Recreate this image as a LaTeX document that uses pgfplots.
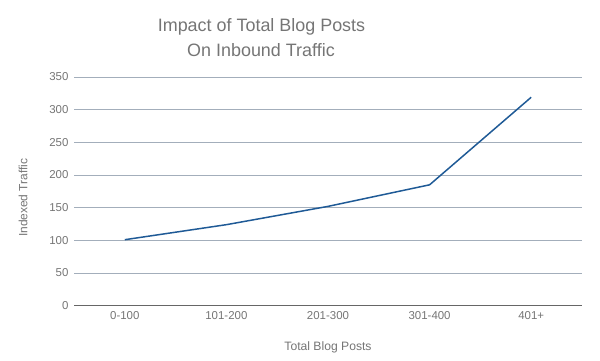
\documentclass[border=0pt]{standalone}
\usepackage{pgfplots}
\pgfplotsset{compat=1.18}
\usepackage{fontspec}
\setmainfont{Liberation Sans}
\definecolor{txt}{HTML}{757575}
\definecolor{gridc}{HTML}{A3AEBB}
\definecolor{linec}{HTML}{1F5A96}
\begin{document}
\begin{tikzpicture}
\begin{axis}[
  scale only axis,
  width=508bp, height=228.7bp,
  xmin=-0.5, xmax=4.5,
  ymin=0, ymax=350,
  xtick={0,1,2,3,4},
  xticklabels={0-100,101-200,201-300,301-400,401+},
  ytick={0,50,...,350},
  ymajorgrids=true,
  xmajorgrids=false,
  grid style={draw=gridc, line width=0.8pt},
  axis lines*=left,
  y axis line style={draw=none},
  x axis line style={draw=black!60, line width=0.9pt},
  major tick length=0pt,
  tick label style={font=\fontsize{11.5}{13}\selectfont, text=txt},
  /pgf/number format/assume math mode=true,
  yticklabel style={xshift=-2bp},
  xticklabel style={yshift=-2bp},
  clip=false,
]
\addplot[color=linec, line width=1.5pt] coordinates {(0,101) (1,124) (2,152) (3,185) (4,319)};
\end{axis}
\path[use as bounding box] (-74bp,-55.3bp) rectangle (526bp,305.7bp);
\node[text=txt, font=\fontsize{18}{20}\selectfont] at (187.5bp,279bp) {Impact of Total Blog Posts};
\node[text=txt, font=\fontsize{18}{20}\selectfont] at (187bp,256bp) {On Inbound Traffic};
\node[text=txt, font=\fontsize{12.2}{14}\selectfont] at (254bp,-41.3bp) {Total Blog Posts};
\node[text=txt, font=\fontsize{12}{14}\selectfont, rotate=90] at (-51bp,108bp) {Indexed Traffic};
\end{tikzpicture}
\end{document}
